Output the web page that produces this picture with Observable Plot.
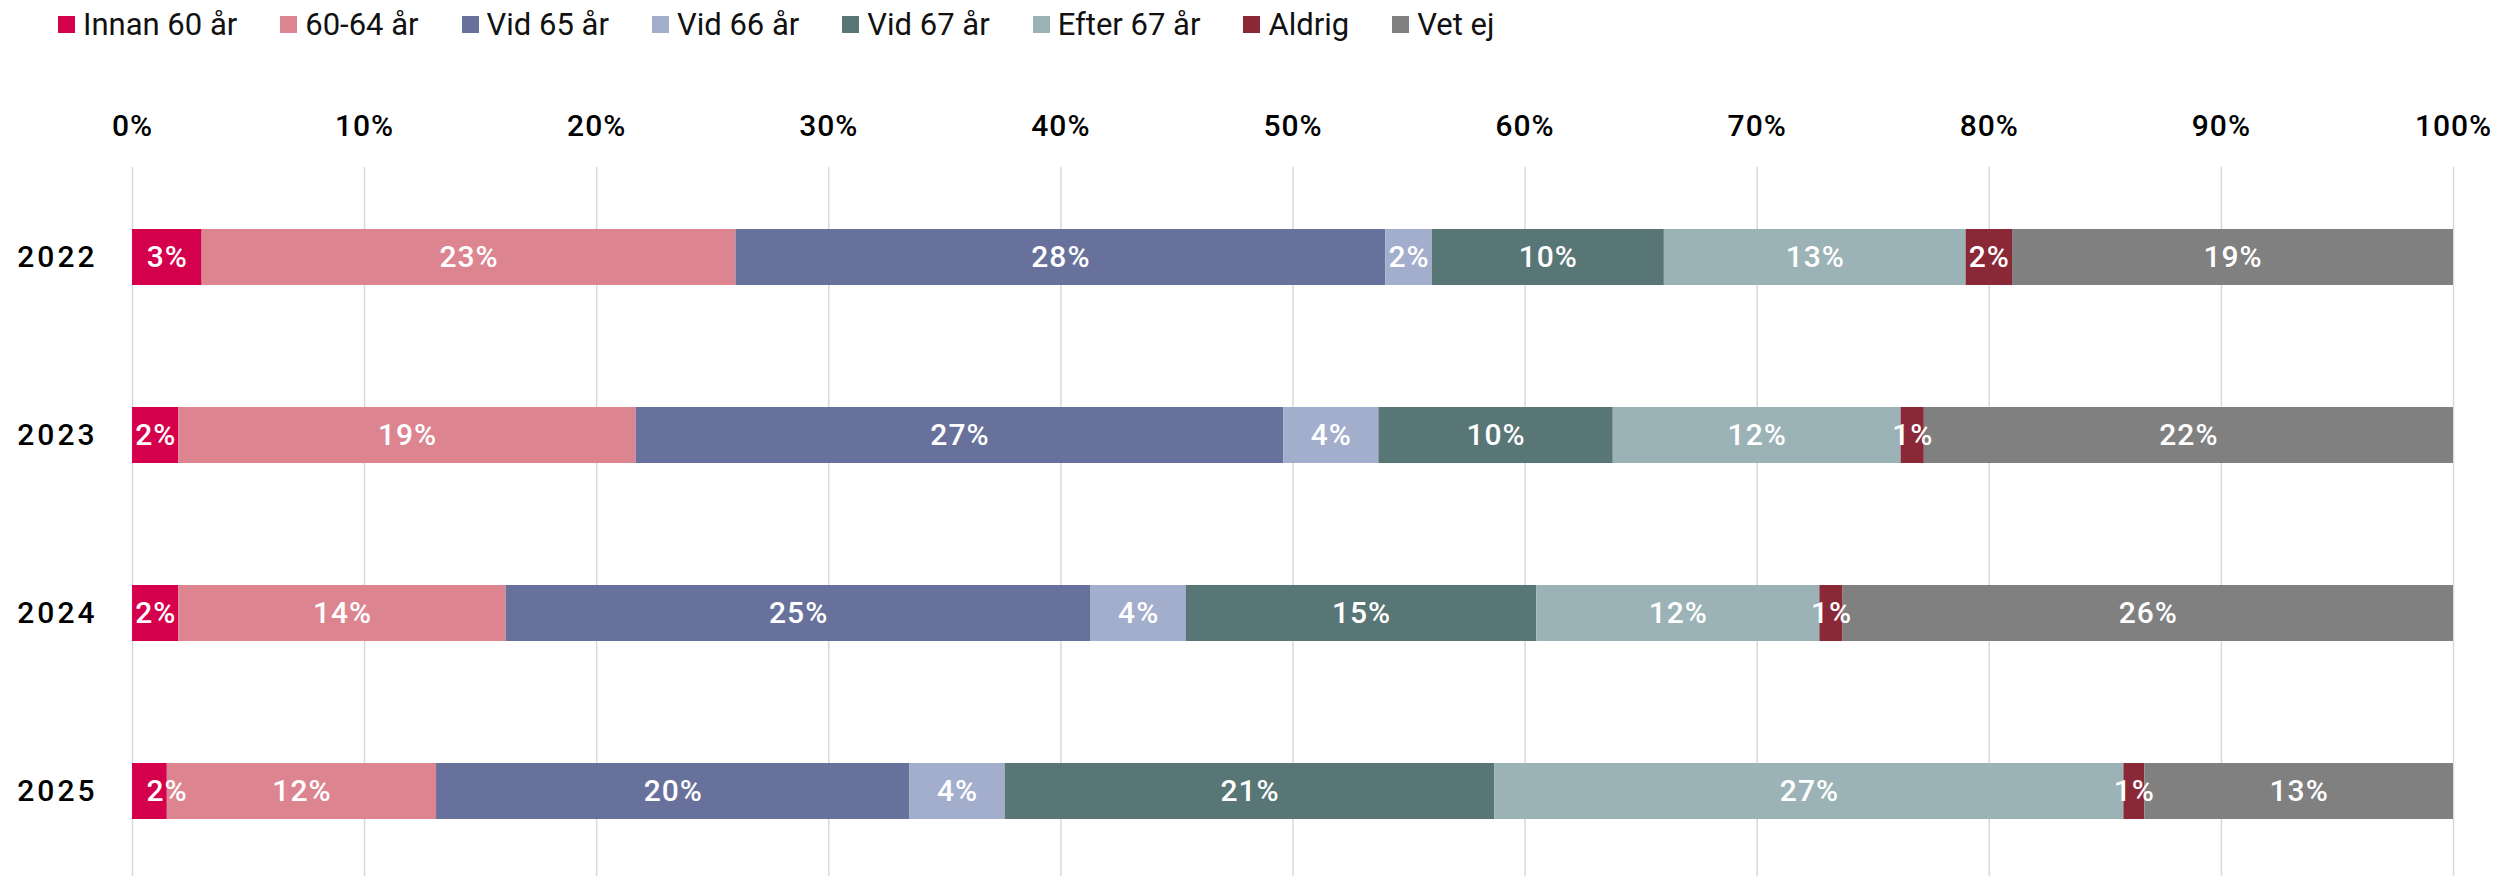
<!DOCTYPE html>
<html>
<head>
<meta charset="utf-8">
<script src="https://cdn.jsdelivr.net/npm/d3@7"></script>
<script src="https://cdn.jsdelivr.net/npm/@observablehq/plot@0.6"></script>
<style>
  html, body { margin: 0; padding: 0; background: #fff; }
  body { width: 2496px; height: 876px; overflow: hidden; }
  #legend { display: flex; align-items: center; height: 48px; padding-left: 58px;
            font-family: Roboto, sans-serif; font-weight: 400; font-size: 31px; color: #111; }
  .item { display: flex; align-items: center; margin-right: 43px; white-space: nowrap; }
  .sw { width: 17px; height: 17px; margin-right: 8px; flex: none; }
  g[aria-label="x-axis tick label"] text { font-family: Roboto, sans-serif; font-weight: 500; font-size: 30px; letter-spacing: 1px; }
  g[aria-label="y-axis tick label"] text { font-family: Roboto, sans-serif; font-weight: 500; font-size: 30px; letter-spacing: 3px; }
  g.barlabel text { font-family: Roboto, sans-serif; font-weight: 500; font-size: 30px; letter-spacing: 1px; }
</style>
</head>
<body>
<div id="legend"></div>
<div id="chart"></div>
<script>
// ---- Data ----
const years = ["2022", "2023", "2024", "2025"];
const categories = ["Innan 60 år", "60-64 år", "Vid 65 år", "Vid 66 år", "Vid 67 år", "Efter 67 år", "Aldrig", "Vet ej"];
const colors = ["#d5004b", "#dc8590", "#68719c", "#a3aecd", "#597676", "#9bb3b6", "#8b2838", "#808080"];

// segment values per category (one value per year, 2022..2025), in percent
const innan60 = [3.0, 2.0, 2.0, 1.5];
const age60_64 = [23.0, 19.7, 14.1, 11.6];
const vid65 = [28.0, 27.9, 25.2, 20.4];
const vid66 = [2.0, 4.1, 4.1, 4.1];
const vid67 = [10.0, 10.1, 15.1, 21.1];
const efter67 = [13.0, 12.4, 12.2, 27.1];
const aldrig = [2.0, 1.0, 1.0, 0.9];
const vetEj = [19.0, 22.8, 26.3, 13.3];

// data labels shown in the bars (per year, in category order)
const labels2022 = ["3%", "23%", "28%", "2%", "10%", "13%", "2%", "19%"];
const labels2023 = ["2%", "19%", "27%", "4%", "10%", "12%", "1%", "22%"];
const labels2024 = ["2%", "14%", "25%", "4%", "15%", "12%", "1%", "26%"];
const labels2025 = ["2%", "12%", "20%", "4%", "21%", "27%", "1%", "13%"];

const xTicks = [0, 10, 20, 30, 40, 50, 60, 70, 80, 90, 100];

// ---- Build table ----
const series = [innan60, age60_64, vid65, vid66, vid67, efter67, aldrig, vetEj];
const labelSets = [labels2022, labels2023, labels2024, labels2025];
const rows = [];
years.forEach((year, i) => {
  let acc = 0;
  categories.forEach((cat, j) => {
    const value = series[j][i];
    rows.push({year, cat, value, label: labelSets[i][j], x0: acc, x1: acc + value, mid: acc + value / 2, first: j === 0});
    acc += value;
  });
});
const shifted = d => d.first && d.value < 1.8;

// ---- Legend ----
const legend = document.getElementById("legend");
categories.forEach((c, i) => {
  const item = document.createElement("div");
  item.className = "item";
  const sw = document.createElement("span");
  sw.className = "sw";
  sw.style.background = colors[i];
  const t = document.createElement("span");
  t.textContent = c;
  item.appendChild(sw);
  item.appendChild(t);
  legend.appendChild(item);
});

// ---- Chart ----
const chart = Plot.plot({
  width: 2496,
  height: 828,
  marginTop: 119,
  marginLeft: 132,
  marginRight: 43,
  marginBottom: 0,
  style: {fontFamily: "Roboto, sans-serif", fontSize: "30px", color: "#000", background: "#fff"},
  x: {domain: [0, 100], axis: null},
  y: {domain: years, range: [121, 830], paddingInner: 0.6866, paddingOuter: 0.3276, axis: null},
  color: {domain: categories, range: colors},
  marks: [
    Plot.gridX(xTicks, {stroke: "#d9d9d9", strokeOpacity: 1, strokeWidth: 1.5}),
    Plot.axisX(xTicks, {anchor: "top", tickSize: 0, tickPadding: 32, tickFormat: d => d + "%", fill: "#000", label: null}),
    Plot.axisY(years, {anchor: "left", tickSize: 0, tickPadding: 35, fill: "#000", label: null}),
    Plot.barX(rows, {x1: "x0", x2: "x1", y: "year", fill: "cat"}),
    Plot.text(rows.filter(d => !shifted(d)), {x: "mid", y: "year", text: "label", fill: "white", className: "barlabel"}),
    Plot.text(rows.filter(shifted), {x: "x0", y: "year", text: "label", fill: "white", textAnchor: "start", dx: 14, className: "barlabel"})
  ]
});
document.getElementById("chart").appendChild(chart);
</script>
</body>
</html>
